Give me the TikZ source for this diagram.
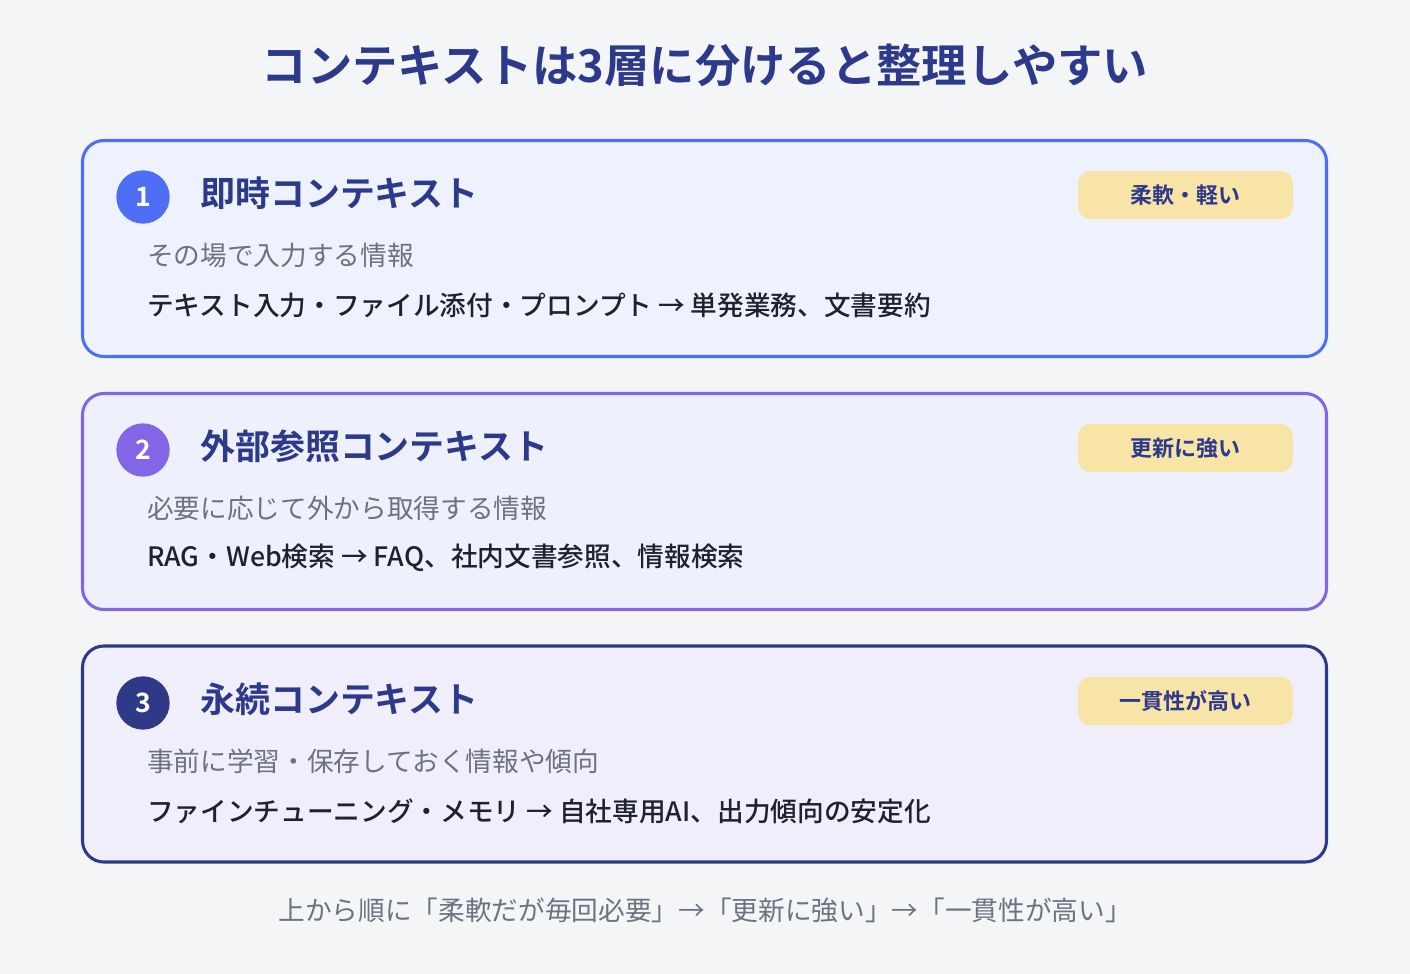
\documentclass[tikz,border=0pt]{standalone}
\usepackage{fontspec}
\usepackage{xcolor}
\usepackage{tikz}
\usetikzlibrary{positioning}
\setmainfont{Noto Sans CJK JP}[BoldFont={Noto Sans CJK JP Bold}]
\newfontfamily\medfont{Noto Sans CJK JP Medium}

\definecolor{pagebg}{HTML}{F4F5F7}
\definecolor{navy}{HTML}{2D3A8C}
\definecolor{greytxt}{HTML}{6B7280}
\definecolor{inktxt}{HTML}{1E2130}
\definecolor{lineA}{HTML}{4D6EF5}
\definecolor{fillA}{HTML}{EEF2FD}
\definecolor{lineB}{HTML}{8366E8}
\definecolor{fillB}{HTML}{EEF0FC}
\definecolor{lineC}{HTML}{2E3A87}
\definecolor{fillC}{HTML}{F1EEFC}
\definecolor{tagfill}{HTML}{F7E4A6}

\tikzset{
  card/.style={rectangle, rounded corners=16pt, line width=2.3pt,
    minimum width=933pt, minimum height=162pt},
  numdot/.style={circle, minimum size=40pt, inner sep=0pt, text=white,
    font=\fontsize{20pt}{22pt}\selectfont\bfseries},
  headtxt/.style={anchor=west, inner sep=0pt, text=navy,
    font=\fontsize{26.2pt}{30pt}\selectfont\bfseries},
  subtxt/.style={anchor=west, inner sep=0pt, text=greytxt,
    font=\fontsize{20pt}{24pt}\selectfont},
  dettxt/.style={anchor=west, inner sep=0pt, text=inktxt,
    font=\fontsize{20pt}{24pt}\selectfont\medfont},
  tagbox/.style={rectangle, rounded corners=9pt, fill=tagfill, text=navy,
    minimum width=161pt, minimum height=36pt, inner sep=0pt,
    font=\fontsize{16.5pt}{18pt}\selectfont\bfseries}
}

\begin{document}
\begin{tikzpicture}[x=0.75pt, y=-0.75pt]
   % Background (fixes the page size)
   \fill[pagebg] (0,0) rectangle (1410,974);

   % Title
   \node[text=navy, font=\fontsize{34pt}{40pt}\selectfont\bfseries] (title) at (705,65)
      {コンテキストは3層に分けると整理しやすい};

   % Layer 1
   \node[card, draw=lineA, fill=fillA] (card1) at (704.5,248.5) {};
   \node[numdot, fill=lineA] (num1) at (143,197) {1};
   \node[headtxt] (head1) at (200,193) {即時コンテキスト};
   \node[subtxt] (sub1) at (147,255) {その場で入力する情報};
   \node[dettxt] (det1) at (147,305) {テキスト入力・ファイル添付・プロンプト → 単発業務、文書要約};
   \node[tagbox] (tag1) at (1185.5,195) {柔軟・軽い};

   % Layer 2
   \node[card, draw=lineB, fill=fillB] (card2) at (704.5,501.5) {};
   \node[numdot, fill=lineB] (num2) at (143,450) {2};
   \node[headtxt] (head2) at (200,446) {外部参照コンテキスト};
   \node[subtxt] (sub2) at (147,508) {必要に応じて外から取得する情報};
   \node[dettxt] (det2) at (147,558) {RAG・Web検索 → FAQ、社内文書参照、情報検索};
   \node[tagbox] (tag2) at (1185.5,448) {更新に強い};

   % Layer 3
   \node[card, draw=lineC, fill=fillC] (card3) at (704.5,754) {};
   \node[numdot, fill=lineC] (num3) at (143,703) {3};
   \node[headtxt] (head3) at (200,699) {永続コンテキスト};
   \node[subtxt] (sub3) at (147,761) {事前に学習・保存しておく情報や傾向};
   \node[dettxt] (det3) at (147,811) {ファインチューニング・メモリ → 自社専用AI、出力傾向の安定化};
   \node[tagbox] (tag3) at (1185.5,701) {一貫性が高い};

   % Footer note
   \node[text=greytxt, font=\fontsize{20pt}{24pt}\selectfont] (note) at (705,910)
      {上から順に「柔軟だが毎回必要」→「更新に強い」→「一貫性が高い」};
\end{tikzpicture}
\end{document}
